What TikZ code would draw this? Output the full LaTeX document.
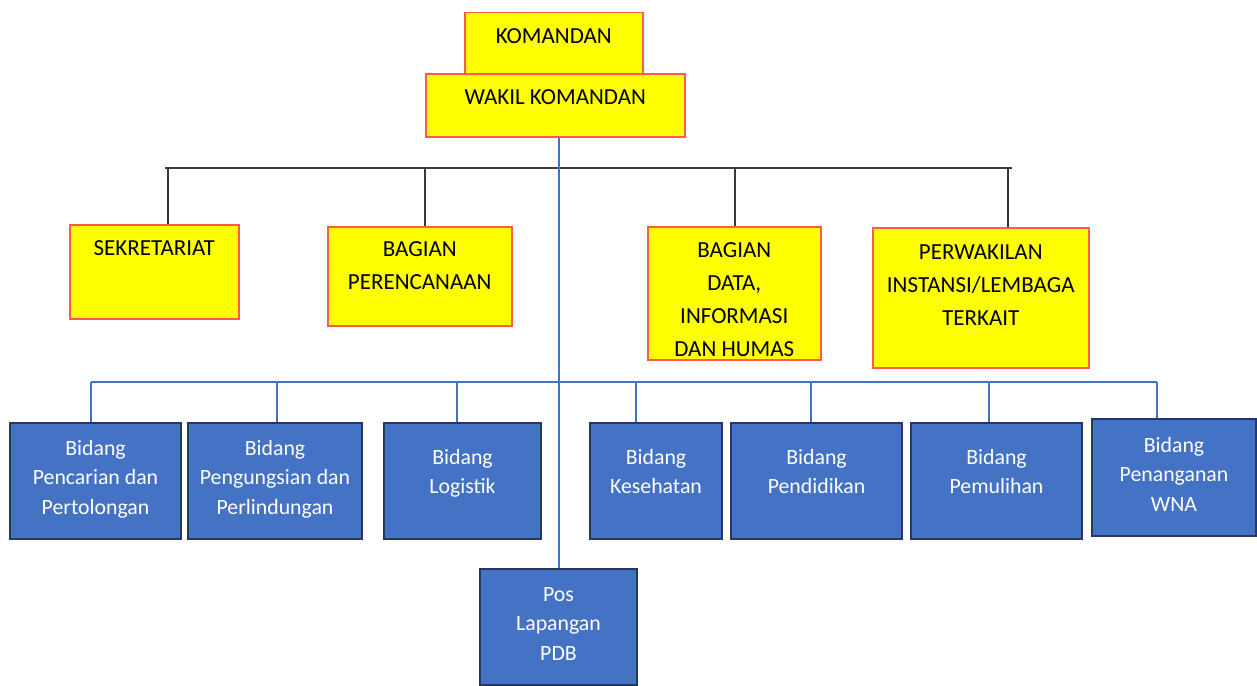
\documentclass[tikz,border=0pt]{standalone}
\usepackage{fontspec}
\setmainfont{Carlito}
\usepackage{tikz}
\usetikzlibrary{positioning}

\definecolor{boxyellow}{HTML}{FFFF00}
\definecolor{boxred}{HTML}{FF5A4A}
\definecolor{boxblue}{HTML}{4472C4}
\definecolor{boxnavy}{HTML}{23395F}
\definecolor{linegray}{HTML}{3A3A3A}

% text block placed from the top of a box: width, height, first baseline, text
\newcommand{\boxtxt}[4]{\parbox[c][#2pt][t]{#1pt}{\centering\rule{0pt}{#3pt}#4}}

\begin{document}
\begin{tikzpicture}[x=1pt, y=-1pt,
    ybox/.style={draw=boxred, line width=1.5pt, fill=boxyellow, inner sep=0pt,
      anchor=north west, font=\fontsize{23}{33}\selectfont},
    bbox/.style={draw=boxnavy, line width=2pt, fill=boxblue, inner sep=0pt,
      anchor=north west, text=white, font=\fontsize{21.8}{29.5}\selectfont},
    tline/.style={draw=linegray, line width=1.2pt},
    bline/.style={draw=boxblue, line width=1.2pt}]

    \useasboundingbox (0,0) rectangle (1257,685);

    % top
    \node[ybox] (kom) at (464,12) {\boxtxt{178}{61}{31}{KOMANDAN}};
    \node[ybox] (wakil) at (425,73) {\boxtxt{259}{63}{31}{WAKIL KOMANDAN}};

    % staff row
    \node[ybox] (sekr) at (69,224) {\boxtxt{169}{94}{31}{SEKRETARIAT}};
    \node[ybox] (renc) at (327,226) {\boxtxt{184}{99}{30}{BAGIAN\\PERENCANAAN}};
    \node[ybox] (data) at (647,226) {\boxtxt{173}{133}{31}{BAGIAN\\DATA,\\INFORMASI\\DAN HUMAS}};
    \node[ybox] (perw) at (872,227) {\boxtxt{216}{140}{32}{PERWAKILAN\\INSTANSI/LEMBAGA\\TERKAIT}};

    % bidang row
    \node[bbox] (pencarian) at (9,422) {\boxtxt{171}{116}{32}{Bidang\\Pencarian dan\\Pertolongan}};
    \node[bbox] (pengungsian) at (187,422) {\boxtxt{174}{116}{32}{Bidang\\Pengungsian dan\\Perlindungan}};
    \node[bbox] (logistik) at (383,422) {\boxtxt{157}{116}{41}{Bidang\\Logistik}};
    \node[bbox] (kesehatan) at (589,422) {\boxtxt{132}{116}{41}{Bidang\\Kesehatan}};
    \node[bbox] (pendidikan) at (730,422) {\boxtxt{171}{116}{41}{Bidang\\Pendidikan}};
    \node[bbox] (pemulihan) at (910,422) {\boxtxt{171}{116}{41}{Bidang\\Pemulihan}};
    \node[bbox] (wna) at (1091,418) {\boxtxt{164}{117}{33}{Bidang\\Penanganan\\WNA}};
    \node[bbox] (pos) at (479,568) {\boxtxt{157}{116}{32}{Pos\\Lapangan\\PDB}};

    % black bus
    \coordinate (tbl) at (165,168);
    \coordinate (tbr) at (1012,168);
    \coordinate (t1) at (168,168);
    \coordinate (t2) at (425,168);
    \coordinate (t3) at (735,168);
    \coordinate (t4) at (1008,168);
    \draw[tline] (tbl) -- (tbr);
    \draw[tline] (t1) -- (t1 |- sekr.north);
    \draw[tline] (t2) -- (t2 |- renc.north);
    \draw[tline] (t3) -- (t3 |- data.north);
    \draw[tline] (t4) -- (t4 |- perw.north);

    % blue bus
    \coordinate (b1) at (91,382);
    \coordinate (b2) at (277,382);
    \coordinate (b3) at (457,382);
    \coordinate (b4) at (636,382);
    \coordinate (b5) at (811,382);
    \coordinate (b6) at (989,382);
    \coordinate (b7) at (1157,382);
    \draw[bline] (b1) -- (b7);
    \draw[bline] (b1) -- (b1 |- pencarian.north);
    \draw[bline] (b2) -- (b2 |- pengungsian.north);
    \draw[bline] (b3) -- (b3 |- logistik.north);
    \draw[bline] (b4) -- (b4 |- kesehatan.north);
    \draw[bline] (b5) -- (b5 |- pendidikan.north);
    \draw[bline] (b6) -- (b6 |- pemulihan.north);
    \draw[bline] (b7) -- (b7 |- wna.north);

    % main line
    \draw[boxblue, line width=2pt] (wakil.south -| pos.north) -- (pos.north);
\end{tikzpicture}
\end{document}
